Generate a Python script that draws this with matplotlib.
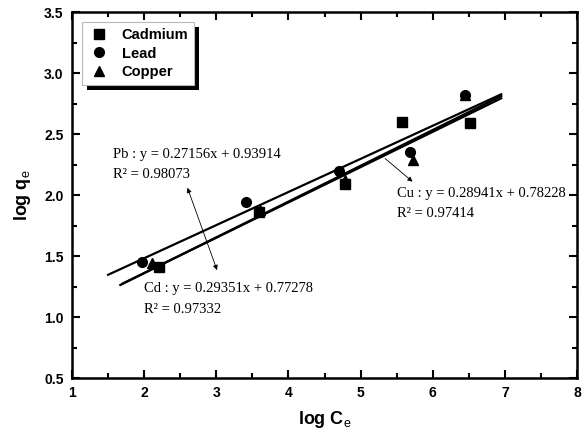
import matplotlib
matplotlib.use("Agg")
import matplotlib.pyplot as plt
import matplotlib.patches as mpatches
import numpy as np

plt.rcParams['font.family'] = ['Liberation Sans', 'DejaVu Sans']
plt.rcParams['mathtext.fontset'] = 'custom'
plt.rcParams['mathtext.rm'] = 'Liberation Sans'
plt.rcParams['mathtext.it'] = 'Liberation Sans'

# Data (log Ce, log qe)
cd_x = [2.21, 3.59, 4.78, 5.58, 6.51]
cd_y = [1.41, 1.86, 2.09, 2.60, 2.59]
pb_x = [1.97, 3.41, 4.70, 5.69, 6.45]
pb_y = [1.45, 1.94, 2.20, 2.35, 2.82]
cu_x = [2.11, 3.60, 4.79, 5.72, 6.45]
cu_y = [1.44, 1.88, 2.12, 2.29, 2.82]

# Fit lines: slope, intercept, x-range
pb_fit = (0.27156, 0.93914, 1.50, 6.95)
cd_fit = (0.29351, 0.77278, 1.67, 6.95)
cu_fit = (0.28941, 0.78228, 1.70, 6.95)

fig = plt.figure(figsize=(5.87, 4.34), dpi=100)
ax = fig.add_axes([0.1227, 0.129, 0.8603, 0.843])

for (m, b, x0, x1) in [pb_fit, cd_fit, cu_fit]:
    xs = np.array([x0, x1])
    ax.plot(xs, m * xs + b, color='black', lw=1.6, zorder=2)

ax.plot(cd_x, cd_y, 's', color='black', ms=6.5, ls='none', label='Cadmium', zorder=3)
ax.plot(pb_x, pb_y, 'o', color='black', ms=7, ls='none', label='Lead', zorder=3)
ax.plot(cu_x, cu_y, '^', color='black', ms=7.5, ls='none', label='Copper', zorder=3)

tfont = dict(family=['Liberation Serif', 'DejaVu Serif'], fontsize=10.5)
ax.text(1.57, 2.33, 'Pb : y = 0.27156x + 0.93914', va='center', **tfont)
ax.text(1.57, 2.165, 'R² = 0.98073', va='center', **tfont)
ax.text(2.0, 1.23, 'Cd : y = 0.29351x + 0.77278', va='center', **tfont)
ax.text(2.0, 1.06, 'R² = 0.97332', va='center', **tfont)
ax.text(5.51, 2.016, 'Cu : y = 0.28941x + 0.78228', va='center', **tfont)
ax.text(5.51, 1.85, 'R² = 0.97414', va='center', **tfont)

ap = dict(arrowstyle='<|-|>', color='black', lw=0.6, mutation_scale=7, shrinkA=0, shrinkB=0)
ax.annotate('', xy=(2.60, 2.06), xytext=(3.01, 1.385), arrowprops=ap)
ap2 = dict(arrowstyle='-|>', color='black', lw=0.6, mutation_scale=7, shrinkA=0, shrinkB=0)
ax.annotate('', xy=(5.72, 2.11), xytext=(5.34, 2.30), arrowprops=ap2)

ax.set_xlim(1, 8)
ax.set_ylim(0.5, 3.5)
ax.set_xticks(np.arange(1, 9, 1))
ax.set_yticks(np.arange(0.5, 3.51, 0.5))
ax.set_xticks(np.arange(1.5, 8, 1), minor=True)
ax.set_yticks(np.arange(0.75, 3.5, 0.5), minor=True)
ax.set_yticklabels(['%.1f' % v for v in np.arange(0.5, 3.51, 0.5)])
ax.tick_params(which='both', direction='in', top=True, right=True, width=1.5)
ax.tick_params(which='major', length=6, labelsize=10, pad=6)
ax.tick_params(which='minor', length=3.5)
for lbl in ax.get_xticklabels() + ax.get_yticklabels():
    lbl.set_fontweight('bold')
for s in ax.spines.values():
    s.set_linewidth(1.8)

ax.set_xlabel(r'log C$_{\rm e}$', fontsize=13, fontweight='bold', labelpad=6)
ax.set_ylabel(r'log q$_{\rm e}$', fontsize=13, fontweight='bold', labelpad=8)

leg = ax.legend(loc='upper left', fancybox=False, shadow=False,
                prop={'weight': 'bold', 'size': 10.5}, borderaxespad=0.7,
                handletextpad=0.8, labelspacing=0.3, borderpad=0.4, handlelength=1.5,
                framealpha=1, edgecolor='#bbbbbb')
leg.get_frame().set_linewidth(0.8)
leg.set_zorder(6)

fig.canvas.draw()
bb = leg.get_window_extent()
shadow = mpatches.Rectangle((bb.x0 + 5, bb.y0 - 5), bb.width, bb.height,
                            transform=None, facecolor='black', edgecolor='none',
                            zorder=5.5, clip_on=False)
ax.add_artist(shadow)

fig.savefig('out.png', dpi=100)
